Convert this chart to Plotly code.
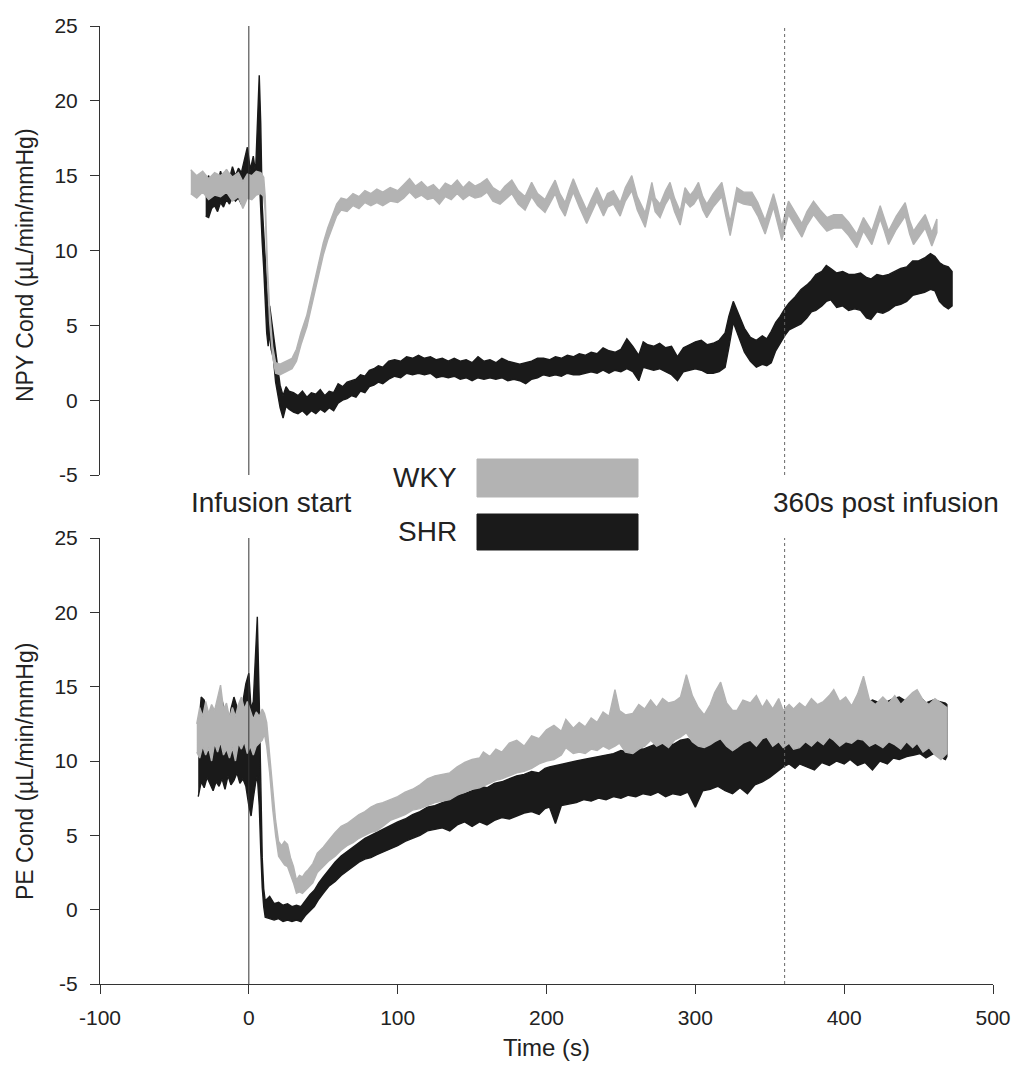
import plotly.graph_objects as go

# ---------------- data ----------------
# Top panel: NPY conductance, WKY (grey) band upper/lower edges
npy_wky_t = [-39, -35, -31, -27, -23, -19, -15, -11, -7, -4, -1, 2, 5, 8, 10,
             11, 12.5, 14, 16, 18, 21, 25, 29, 32, 35, 39, 43, 46, 50, 53, 56, 59, 62, 66,
             70, 74, 78, 82, 86, 90, 95, 100, 104, 108, 112, 116, 120, 124, 128, 132,
             136, 140, 144, 148, 152, 156, 160, 164, 168.8, 172, 176.7, 181, 185.6, 190,
             194, 199, 202, 205.8, 209, 212.5, 215, 218, 222, 227, 230, 233.8, 238.3, 241,
             245, 249.5, 253, 257.3, 261, 266.3, 270.8, 273, 276.3, 280, 283, 286, 289.8,
             293.1, 296.5, 299, 302.1, 305, 307.7, 312, 317.8, 320.5, 323.4, 327.9, 332.4,
             338, 342, 346.9, 352.5, 355, 358.1, 362.6, 367, 371.6, 375, 379.4, 384, 388.4,
             393, 398.5, 403, 408.5, 413, 418.6, 424.2, 427, 429.8, 435, 441, 444, 446.6,
             450, 454.4, 458.9, 462.3]
npy_wky_hi = [15.4, 15.0, 15.3, 14.8, 15.2, 15.0, 15.4, 14.9, 15.2, 14.6, 15.1, 15.0, 15.3, 15.2, 14.9,
              13.6, 9.0, 6.0, 3.6, 2.5, 2.4, 2.6, 2.8, 3.4, 4.5, 5.7, 7.4, 8.8, 10.5, 11.5, 12.3, 13.1, 13.5, 13.4,
              13.8, 13.6, 14.0, 13.8, 14.1, 13.9, 14.2, 14.0, 14.4, 14.8, 14.3, 14.6, 14.2, 14.4, 14.0, 14.5,
              14.3, 14.7, 14.2, 14.6, 14.3, 14.5, 14.8, 14.2, 13.9, 14.3, 14.7, 14.0, 13.6, 14.55,
              13.8, 13.4, 14.0, 14.7, 13.8, 13.2, 14.0, 14.8, 13.8, 12.7, 13.4, 14.2, 13.2, 13.8,
              14.0, 13.2, 14.2, 15.0, 13.6, 12.5, 14.55, 13.5, 13.1, 14.0, 14.55, 13.5, 12.6,
              14.2, 13.7, 14.0, 14.55, 13.6, 13.1, 13.8, 14.55, 13.2, 11.9, 14.2, 13.9,
              13.9, 13.2, 12.0, 13.8, 12.9, 11.6, 13.3, 12.6, 11.8, 12.6, 13.3, 12.7, 12.2,
              12.4, 12.4, 11.9, 11.1, 12.2, 11.3, 13.0, 12.2, 11.3, 12.3, 13.2, 12.0, 11.3,
              11.8, 12.4, 11.2, 12.1]
npy_wky_lo = [13.8, 13.5, 13.9, 13.4, 13.7, 13.6, 13.9, 13.3, 13.6, 12.8, 13.5, 13.4, 13.7, 13.8, 13.6,
              12.6, 8.2, 5.2, 2.9, 1.8, 1.7, 1.9, 2.1, 2.6, 3.7, 4.9, 6.6, 8.0, 9.7, 10.7, 11.5, 12.3, 12.7, 12.6,
              13.0, 12.8, 13.2, 13.0, 13.2, 13.0, 13.3, 13.2, 13.5, 13.9, 13.5, 13.7, 13.4, 13.5, 13.1, 13.6,
              13.4, 13.8, 13.4, 13.7, 13.5, 13.6, 13.9, 13.3, 13.1, 13.4, 13.8, 13.1, 12.7, 13.6,
              13.0, 12.55, 13.1, 13.8, 12.9, 12.3, 13.1, 13.9, 12.9, 11.8, 12.5, 13.3, 12.3, 12.9,
              13.1, 12.3, 13.3, 14.0, 12.7, 11.55, 13.6, 12.6, 12.2, 13.1, 13.6, 12.6, 11.7,
              13.3, 12.9, 13.1, 13.6, 12.7, 12.2, 12.9, 13.6, 12.3, 11.0, 13.3, 13.1,
              13.0, 12.3, 11.1, 12.9, 12.0, 10.7, 12.4, 11.7, 10.9, 11.7, 12.4, 11.8, 11.3,
              11.5, 11.5, 11.0, 10.2, 11.3, 10.4, 12.1, 11.3, 10.4, 11.4, 12.3, 11.1, 10.4,
              10.9, 11.5, 10.3, 11.2]

# Top panel: NPY conductance, SHR (black) band upper/lower edges
npy_shr_t = [-29, -27, -25, -23, -21, -19, -17, -15, -13, -11, -9, -7, -5, -3, -1, 1, 3, 4.5, 6, 7, 8, 9,
             10, 11, 12, 13, 14, 15, 16.5, 18, 19.5, 21, 23, 25, 27, 30, 33, 36, 39, 42, 45, 48, 51,
             54, 57, 60, 63, 66, 69, 72, 75, 78, 81, 84, 87, 90, 94, 98, 102, 106, 110, 114, 118,
             122, 126, 130, 134, 138, 142, 146, 150, 154, 158, 162, 166, 170, 174, 178, 182, 186,
             190, 194, 198, 202, 206, 210, 214, 218, 222, 226, 230, 234, 238, 242, 246, 250, 254,
             258, 262, 265, 268, 272, 276, 280, 284, 288, 292, 296, 300, 304, 308, 312, 316, 320,
             322.5, 325.5, 328, 330, 333, 337, 341, 345, 348, 351, 354, 357, 360, 363, 367, 371,
             375, 378, 381, 385, 388, 391, 395, 399, 403, 407, 411, 415, 418, 422, 426, 430, 434,
             438, 442, 446, 450, 454, 458, 461, 464, 467, 470, 472.5]
npy_shr_hi = [14.6, 15.0, 14.2, 15.1, 14.5, 15.3, 14.6, 15.4, 14.8, 15.6, 15.0, 15.5, 15.2, 16.0, 16.9, 15.4,
              16.3, 15.2, 19.0, 21.7, 18.5, 13.0, 11.2, 9.5, 7.5, 6.0, 6.3, 5.5, 4.6, 3.0, 1.9, 1.0, 0.3,
              0.9, 0.6, 0.5, 0.3, 0.6, 0.2, 0.5, 0.4, 0.7, 0.3, 0.6, 0.5, 1.1, 0.9, 1.2, 1.3, 1.4, 1.7,
              1.6, 2.0, 2.1, 2.3, 2.2, 2.6, 2.7, 2.6, 2.9, 2.8, 3.0, 2.8, 2.9, 2.7, 2.8, 2.6, 2.8, 2.6,
              2.7, 2.5, 2.9, 2.6, 2.7, 2.5, 2.8, 2.6, 2.5, 2.4, 2.5, 2.6, 2.8, 2.8, 2.7, 2.9, 2.8, 3.0,
              2.9, 3.1, 3.0, 3.2, 3.1, 3.5, 3.3, 3.2, 3.4, 4.1, 3.6, 3.0, 3.9, 3.7, 3.6, 3.8, 3.5, 3.6,
              2.9, 3.5, 3.7, 3.9, 4.0, 3.7, 3.8, 4.0, 4.5, 5.6, 6.6, 6.0, 5.4, 4.8, 4.2, 4.0, 4.3, 4.1,
              4.6, 5.2, 5.6, 6.1, 6.5, 6.9, 7.4, 7.7, 8.0, 8.4, 8.6, 9.0, 8.8, 8.5, 8.6, 8.4, 8.4, 8.5,
              8.2, 8.1, 8.4, 8.3, 8.4, 8.6, 8.8, 8.9, 9.3, 9.3, 9.5, 9.8, 9.6, 9.2, 9.0, 8.9, 8.6]
npy_shr_lo = [12.3, 12.2, 12.8, 13.0, 12.6, 13.2, 12.9, 13.4, 13.1, 13.6, 13.3, 13.5, 13.1, 13.8, 14.0, 13.6,
              14.0, 13.8, 14.5, 15.0, 13.0, 10.5, 8.8, 7.0, 4.5, 3.6, 4.5, 3.4, 2.8, 1.2, 0.4, -0.5, -1.2,
              -0.4, -0.6, -0.8, -0.9, -0.7, -1.0, -0.7, -0.9, -0.6, -0.8, -0.5, -0.7, -0.2, 0.0, 0.1, 0.3,
              0.2, 0.6, 0.5, 0.9, 1.0, 1.2, 1.1, 1.4, 1.6, 1.5, 1.8, 1.7, 1.8, 1.7, 1.8, 1.5, 1.6, 1.5,
              1.6, 1.4, 1.5, 1.3, 1.5, 1.4, 1.5, 1.4, 1.5, 1.3, 1.4, 1.3, 1.1, 1.4, 1.5, 1.7, 1.6, 1.7,
              1.6, 1.8, 1.7, 1.7, 1.8, 1.9, 1.8, 2.0, 1.8, 2.0, 1.9, 2.1, 1.9, 1.3, 2.2, 2.1, 2.0, 2.1,
              1.9, 1.7, 1.3, 1.9, 2.0, 2.1, 2.0, 1.8, 1.8, 1.9, 2.2, 3.5, 5.2, 4.6, 4.0, 3.2, 2.6, 2.2,
              2.4, 2.3, 2.5, 3.3, 3.8, 4.3, 4.7, 4.9, 5.1, 5.5, 5.9, 6.0, 6.3, 6.6, 6.7, 6.2, 6.3, 6.0,
              6.1, 6.0, 5.5, 5.4, 5.9, 5.8, 6.0, 6.3, 6.4, 6.6, 7.0, 7.1, 7.2, 7.4, 7.3, 6.6, 6.3, 6.1,
              6.3]

# Bottom panel: PE conductance, WKY (grey) band upper/lower edges
pe_wky_t = [-35, -33, -31, -29, -27, -25, -23, -21, -19, -17, -15, -13, -11, -9, -7, -5, -3, -1, 1, 3,
            5, 7, 9, 10.5, 12, 14, 16, 18, 20, 22, 24, 26, 28, 30, 32, 34, 36, 38, 40, 43, 46, 50, 54,
            58, 62, 66, 70, 74, 78, 82, 86, 90, 95, 100, 105, 110, 115, 120, 125, 130, 135, 140, 145,
            150, 155, 157.6, 162, 166, 170, 175, 180, 185, 190, 195, 200, 205, 210, 213, 218, 222, 226,
            230, 234, 238, 242, 246, 249, 253, 258, 262, 266, 270, 274, 278, 282, 286, 290, 294, 298,
            302, 306, 310, 313, 317, 321, 325, 328, 332, 337, 341, 345, 348, 352, 356, 359, 363, 366,
            370, 374, 378, 382, 386, 390, 393, 397, 401, 405, 409, 413, 417, 421, 426, 430, 434, 438,
            442, 446, 449, 453, 457, 461, 465, 469]
pe_wky_hi = [12.5, 13.6, 13.0, 14.0, 13.2, 13.8, 13.4, 14.2, 15.1, 13.5, 13.9, 12.9, 13.6, 13.0, 13.8,
             14.3, 13.5, 14.0, 13.4, 12.8, 13.3, 13.0, 13.5, 13.2, 12.6, 10.3, 7.8, 6.0, 4.6, 4.3, 4.6,
             4.4, 3.5, 2.9, 2.0, 2.3, 2.2, 2.5, 2.7, 3.1, 3.8, 4.2, 4.7, 5.2, 5.6, 5.8, 6.1, 6.4, 6.6,
             6.9, 7.1, 7.2, 7.4, 7.6, 7.9, 8.1, 8.4, 8.8, 9.0, 9.1, 9.2, 9.6, 9.9, 10.1, 10.2, 10.6,
             10.3, 10.8, 10.6, 11.2, 11.4, 11.0, 11.7, 11.5, 12.1, 12.4, 12.0, 12.8, 12.2, 12.6, 12.3,
             12.9, 12.6, 13.3, 13.0, 14.8, 13.4, 13.1, 13.2, 13.8, 13.5, 14.1, 13.6, 14.2, 13.9, 14.0,
             14.3, 15.8, 14.4, 13.6, 13.1, 13.8, 14.6, 15.3, 13.9, 13.4, 13.4, 14.1, 13.9, 14.4, 13.6,
             14.1, 13.5, 14.2, 13.4, 13.8, 13.5, 13.9, 13.6, 14.2, 13.8, 14.0, 14.4, 14.8, 14.0, 14.3,
             13.7, 14.5, 15.7, 14.1, 13.8, 14.3, 13.9, 14.4, 13.8, 14.2, 14.6, 14.8, 14.1, 13.8, 14.2,
             13.9, 13.6]
pe_wky_lo = [10.6, 10.2, 11.0, 10.4, 10.9, 10.0, 11.2, 10.6, 11.3, 10.4, 10.8, 10.2, 10.9, 10.0, 11.2,
             10.8, 11.3, 10.5, 11.0, 10.4, 11.0, 11.2, 11.4, 11.8, 11.0, 9.2, 6.8, 5.0, 3.6, 3.3, 3.0,
             2.9, 2.3, 1.8, 1.1, 1.2, 1.1, 1.3, 1.5, 1.8, 2.5, 2.9, 3.3, 3.6, 4.0, 4.3, 4.5, 4.8, 5.0,
             5.2, 5.3, 5.6, 6.0, 6.2, 6.4, 6.7, 6.8, 7.0, 7.2, 7.3, 7.4, 7.7, 7.9, 8.1, 8.2, 8.3, 8.5,
             8.7, 8.8, 9.0, 9.2, 9.3, 9.5, 9.8, 10.0, 10.1, 10.4, 10.9, 10.5, 10.6, 10.5, 10.8, 10.7,
             11.0, 10.8, 11.0, 11.2, 10.6, 10.5, 10.8, 11.0, 11.4, 11.0, 11.2, 10.9, 11.4, 11.6, 11.9,
             11.3, 11.0, 10.9, 11.1, 11.3, 11.5, 11.0, 10.7, 10.9, 11.2, 11.4, 11.0, 11.5, 11.6, 11.0,
             11.3, 10.9, 11.2, 10.8, 10.9, 11.3, 11.0, 11.4, 11.1, 11.6, 11.4, 11.0, 11.3, 11.2, 11.5,
             11.4, 11.0, 11.2, 10.9, 11.3, 11.1, 10.8, 11.3, 10.9, 11.2, 10.6, 10.9, 10.4, 10.1, 10.5]

# Bottom panel: PE conductance, SHR (black) band upper/lower edges
pe_shr_t = [-34, -32, -30, -28, -26, -24, -22, -20, -18, -16, -14, -12, -10, -8, -6, -4, -2, 0, 1.5, 3,
            4.5, 5.7, 7, 8, 9, 10, 11, 14, 17, 20, 23, 26, 29, 32, 35, 38, 41, 44, 47, 50, 54, 58, 62,
            66, 70, 74, 78, 82, 86, 90, 95, 100, 105, 110, 115, 120, 125, 130, 135, 140, 145, 150,
            155, 160, 165, 170, 175, 180, 185, 190, 195, 199, 202, 206, 210, 215, 220, 225, 230, 235,
            240, 245, 250, 255, 260, 265, 270, 275, 280, 285, 290, 295, 300, 305, 310, 315, 320, 325,
            330, 335, 340, 345, 350, 355, 359, 363, 367, 370, 375, 380, 385, 390, 395, 400, 404, 409,
            414, 419, 424, 429, 433, 437, 442, 447, 451, 455, 460, 464, 468, 469]
pe_shr_hi = [12.0, 14.3, 14.1, 12.6, 12.2, 11.5, 12.4, 13.0, 14.1, 13.2, 12.0, 13.5, 14.3, 13.6, 13.0,
             14.0, 15.2, 15.9, 13.5, 14.0, 17.0, 19.7, 14.0, 8.0, 3.5, 1.4, 0.6, 0.9, 0.4, 0.5, 0.3,
             0.4, 0.2, 0.3, 0.2, 0.6, 1.0, 1.3, 1.8, 2.2, 2.7, 3.2, 3.6, 3.9, 4.2, 4.5, 4.8, 5.0, 5.2,
             5.4, 5.7, 5.9, 6.1, 6.4, 6.6, 6.9, 7.0, 7.2, 7.4, 7.7, 7.8, 8.0, 8.3, 8.2, 8.5, 8.6, 8.8,
             9.0, 9.1, 9.3, 9.2, 9.5, 9.6, 9.7, 9.8, 9.9, 10.0, 10.1, 10.2, 10.3, 10.4, 10.5, 10.7,
             10.6, 10.9, 10.8, 11.0, 11.2, 11.4, 11.1, 11.4, 11.5, 11.2, 11.6, 11.4, 11.5, 11.3, 11.6,
             11.4, 11.5, 11.7, 11.8, 12.2, 12.6, 13.0, 13.3, 13.2, 13.6, 13.3, 13.1, 13.4, 13.3, 13.5,
             13.4, 13.6, 13.4, 13.8, 14.1, 13.9, 14.0, 14.2, 14.3, 14.0, 14.2, 14.3, 13.9, 14.1, 14.0,
             13.9, 13.8]
pe_shr_lo = [7.6, 8.6, 8.2, 8.9, 8.4, 8.0, 8.6, 8.3, 8.8, 8.1, 9.0, 8.4, 8.7, 9.2, 8.5, 8.8, 8.3, 7.0,
             6.3, 7.5, 8.5, 9.0, 7.0, 4.0, 1.5, 0.2, -0.5, -0.6, -0.7, -0.6, -0.8, -0.7, -0.8, -0.7,
             -0.8, -0.4, -0.1, 0.2, 0.7, 1.1, 1.6, 1.9, 2.3, 2.6, 2.9, 3.2, 3.4, 3.5, 3.7, 3.9, 4.1,
             4.3, 4.6, 4.8, 5.0, 5.3, 5.4, 5.5, 5.3, 5.7, 5.9, 5.6, 5.9, 5.7, 6.0, 6.2, 6.1, 6.3, 6.5,
             6.6, 6.4, 6.8, 6.9, 5.8, 7.0, 7.1, 7.2, 7.4, 7.3, 7.5, 7.4, 7.6, 7.5, 7.7, 7.6, 7.8, 7.7,
             7.9, 7.6, 7.8, 7.7, 7.9, 6.9, 8.0, 8.1, 8.3, 8.0, 7.8, 8.2, 7.8, 8.4, 8.6, 8.9, 9.3, 9.6,
             9.8, 9.5, 9.8, 9.6, 9.4, 9.9, 9.7, 10.0, 9.8, 10.1, 9.7, 9.9, 9.4, 10.0, 9.8, 10.2, 10.1,
             10.3, 10.4, 10.5, 10.2, 10.5, 10.3, 10.1, 10.3]

x_ticks = [-100, 0, 100, 200, 300, 400, 500]
x_tick_labels = ["-100", "0", "100", "200", "300", "400", "500"]
y_ticks = [-5, 0, 5, 10, 15, 20, 25]
y_tick_labels = ["-5", "0", "5", "10", "15", "20", "25"]
event_times = [0, 360]
event_labels = ["Infusion start", "360s post infusion"]
series_names = ["WKY", "SHR"]

# ---------------- styling ----------------
GREY = "#b3b3b3"
BLACK = "#1a1a1a"
AXIS = "#333333"
TXT = "#222222"
FONT = "Liberation Sans, Arial, sans-serif"
W, H = 1016, 1072


def band(t, hi, lo, color, xa, ya, name):
    return go.Scatter(
        x=list(t) + list(t)[::-1],
        y=list(hi) + list(lo)[::-1],
        fill="toself", fillcolor=color,
        line=dict(color=color, width=1.4),
        mode="lines", xaxis=xa, yaxis=ya, name=name,
        showlegend=False, hoverinfo="skip",
    )


fig = go.Figure()
fig.add_trace(band(npy_shr_t, npy_shr_hi, npy_shr_lo, BLACK, "x", "y", "SHR"))
fig.add_trace(band(npy_wky_t, npy_wky_hi, npy_wky_lo, GREY, "x", "y", "WKY"))
fig.add_trace(band(pe_shr_t, pe_shr_hi, pe_shr_lo, BLACK, "x", "y2", "SHR"))
fig.add_trace(band(pe_wky_t, pe_wky_hi, pe_wky_lo, GREY, "x", "y2", "WKY"))

xd = [100 / W, 993 / W]
yd_top = [1 - 475 / H, 1 - 26 / H]
yd_bot = [1 - 984 / H, 1 - 538 / H]

yax = dict(range=[-5, 25], tickvals=y_ticks, ticktext=y_tick_labels,
           showline=True, linecolor=AXIS, linewidth=1,
           ticks="outside", ticklen=9, tickcolor=AXIS, tickwidth=1,
           showgrid=False, zeroline=False, ticklabelstandoff=8, automargin=False,
           tickfont=dict(family=FONT, size=21, color=TXT), anchor="x")

fig.update_layout(
    width=W, height=H, margin=dict(l=0, r=0, t=0, b=0, autoexpand=False),
    paper_bgcolor="white", plot_bgcolor="white",
    xaxis=dict(domain=xd, range=[-100, 500], tickvals=x_ticks, ticktext=x_tick_labels,
               anchor="y2", showline=True, linecolor=AXIS, linewidth=1, ticks="outside",
               ticklen=9, tickcolor=AXIS, showgrid=False, zeroline=False, automargin=False,
               ticklabelstandoff=6, tickfont=dict(family=FONT, size=21, color=TXT)),
    yaxis=dict(domain=yd_top, **yax),
    yaxis2=dict(domain=yd_bot, **yax),
    showlegend=False,
)

# event lines in both panels
for ya in ["y", "y2"]:
    fig.add_shape(type="line", xref="x", yref=ya, x0=event_times[0], x1=event_times[0],
                  y0=-5, y1=25, line=dict(color=AXIS, width=1))
    fig.add_shape(type="line", xref="x", yref=ya, x0=event_times[1], x1=event_times[1],
                  y0=-5, y1=25, line=dict(color="#666666", width=1, dash="dot"))

# event labels between the panels
fig.add_annotation(x=271 / W, y=1 - 502 / H, xref="paper", yref="paper",
                   text=event_labels[0], showarrow=False, xanchor="center", yanchor="middle",
                   font=dict(family=FONT, size=28, color=TXT))
fig.add_annotation(x=886 / W, y=1 - 502 / H, xref="paper", yref="paper",
                   text=event_labels[1], showarrow=False, xanchor="center", yanchor="middle",
                   font=dict(family=FONT, size=28, color=TXT))

# legend swatches
leg = [(series_names[0], GREY, 459, 497, 478), (series_names[1], BLACK, 514, 550, 532)]
for name, col, ytop, ybot, ymid in leg:
    fig.add_shape(type="rect", xref="paper", yref="paper",
                  x0=477 / W, x1=638 / W, y0=1 - ybot / H, y1=1 - ytop / H,
                  fillcolor=col, line=dict(color=col, width=1))
    fig.add_annotation(x=459 / W, y=1 - ymid / H, xref="paper", yref="paper", text=name,
                       showarrow=False, xanchor="right", yanchor="middle",
                       font=dict(family=FONT, size=28, color=TXT))

# axis titles
fig.add_annotation(x=25 / W, y=1 - 265 / H, xref="paper", yref="paper",
                   text="NPY Cond (µL/min/mmHg)", textangle=-90, showarrow=False,
                   xanchor="center", yanchor="middle", font=dict(family=FONT, size=23, color=TXT))
fig.add_annotation(x=25 / W, y=1 - 772 / H, xref="paper", yref="paper",
                   text="PE Cond (µL/min/mmHg)", textangle=-90, showarrow=False,
                   xanchor="center", yanchor="middle", font=dict(family=FONT, size=23, color=TXT))
fig.add_annotation(x=(xd[0] + xd[1]) / 2, y=1 - 1047 / H, xref="paper", yref="paper",
                   text="Time (s)", showarrow=False, xanchor="center", yanchor="middle",
                   font=dict(family=FONT, size=24, color=TXT))

fig.write_html("out.html")
